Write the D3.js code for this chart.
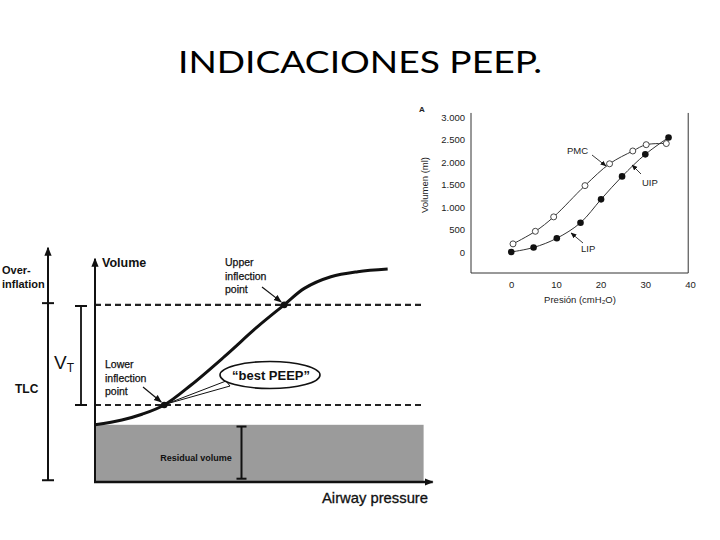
<!DOCTYPE html>
<html>
<head>
<meta charset="utf-8">
<script src="https://cdn.jsdelivr.net/npm/d3@7"></script>
<style>
  html, body { margin: 0; padding: 0; background: #fff; }
  svg { display: block; }
</style>
</head>
<body>
<svg id="chart" width="720" height="540"></svg>
<script>
// ---------- DATA ----------
const titleText = "INDICACIONES PEEP.";

// Left schematic: pressure-volume curve (arbitrary units 0-100)
const leftPressure = [0, 8, 14, 20.6, 28.6, 38.5, 48.4, 56.3, 62.3, 70.2, 78.2, 87.1];
const leftVolume   = [26, 28.2, 30.8, 35, 44.1, 57, 70.6, 80.5, 88, 93.3, 95.6, 96.8];
const residualVolume = 26;      // top of shaded area
const lowerInflection = { p: 20.6, v: 35 };
const upperInflection = { p: 56.3, v: 80.5 };
const tlcLevel = 81.3;          // over-inflation boundary on TLC axis

// Right chart: Volumen (ml) vs Presión (cmH2O)
const openPressure   = [0.4, 5.4, 9.5, 16.5, 22, 27.2, 30.2, 34.7];
const openVolume     = [180, 460, 780, 1475, 1960, 2245, 2385, 2410];
const filledPressure = [0, 5, 10.2, 15.5, 20.1, 24.8, 30, 35.2];
const filledVolume   = [0, 100, 305, 650, 1170, 1680, 2170, 2545];
const rightYTicks  = [0, 500, 1000, 1500, 2000, 2500, 3000];
const rightYLabels = ["0", "500", "1.000", "1.500", "2.000", "2.500", "3.000"];
const rightXTicks  = [0, 10, 20, 30, 40];

// ---------- DRAW ----------
const svg = d3.select("#chart");
const defs = svg.append("defs");
function arrowMarker(id, size) {
  defs.append("marker").attr("id", id)
    .attr("viewBox", "0 0 10 10").attr("refX", 9).attr("refY", 5)
    .attr("markerWidth", size).attr("markerHeight", size)
    .attr("orient", "auto").attr("markerUnits", "userSpaceOnUse")
    .append("path").attr("d", "M0,1 L10,5 L0,9 Z").attr("fill", "#111");
}
arrowMarker("arrowL", 8);
arrowMarker("arrowS", 6);
arrowMarker("axisArrow", 9);

// Title
svg.append("text").attr("x", 360).attr("y", 73)
  .attr("text-anchor", "middle")
  .attr("font-family", "Lato, 'Open Sans', sans-serif")
  .attr("font-size", 30)
  .attr("textLength", 364).attr("lengthAdjust", "spacingAndGlyphs")
  .attr("fill", "#000").text(titleText);

// ===== Left schematic =====
const L = svg.append("g").attr("font-family", "'Liberation Sans', Arial, sans-serif").attr("fill", "#111");
const lx = d3.scaleLinear().domain([0, 100]).range([95, 431]);
const ly = d3.scaleLinear().domain([0, 100]).range([482, 262]);

// shaded residual volume
L.append("rect").attr("x", lx(0)).attr("y", ly(residualVolume))
  .attr("width", lx(97.8) - lx(0)).attr("height", ly(0) - ly(residualVolume))
  .attr("fill", "#9b9b9b");

// dashed lines
[lowerInflection.v, upperInflection.v].forEach(v => {
  L.append("line").attr("x1", lx(0)).attr("x2", lx(97.8))
    .attr("y1", ly(v)).attr("y2", ly(v))
    .attr("stroke", "#222").attr("stroke-width", 2.2).attr("stroke-dasharray", "6,4");
});

// axes
L.append("line").attr("x1", lx(0)).attr("y1", ly(0)).attr("x2", lx(0)).attr("y2", ly(101.5))
  .attr("stroke", "#111").attr("stroke-width", 2).attr("marker-end", "url(#axisArrow)");
L.append("line").attr("x1", lx(0) - 1).attr("y1", ly(0)).attr("x2", lx(100.5)).attr("y2", ly(0))
  .attr("stroke", "#111").attr("stroke-width", 2.5).attr("marker-end", "url(#axisArrow)");

// curve
const leftPts = leftPressure.map((p, i) => [p, leftVolume[i]]);
L.append("path").datum(leftPts)
  .attr("d", d3.line().x(d => lx(d[0])).y(d => ly(d[1])).curve(d3.curveCatmullRom))
  .attr("fill", "none").attr("stroke", "#111").attr("stroke-width", 3);

// inflection dots
[lowerInflection, upperInflection].forEach(pt => {
  L.append("circle").attr("cx", lx(pt.p)).attr("cy", ly(pt.v)).attr("r", 3.3).attr("fill", "#111");
});

// residual volume I-bar
const rvX = lx(43.6);
L.append("line").attr("x1", rvX).attr("x2", rvX).attr("y1", ly(25.2)).attr("y2", ly(1.5)).attr("stroke", "#111").attr("stroke-width", 2);
[25.2, 1.5].forEach(v => L.append("line").attr("x1", rvX - 5).attr("x2", rvX + 5).attr("y1", ly(v)).attr("y2", ly(v)).attr("stroke", "#111").attr("stroke-width", 2));
L.append("text").attr("x", 196).attr("y", 461).attr("text-anchor", "middle")
  .attr("font-size", 9).attr("font-weight", "bold").attr("fill", "#111").text("Residual volume");

// TLC axis
const tX = 48;
L.append("line").attr("x1", tX).attr("x2", tX).attr("y1", ly(0.8)).attr("y2", ly(106.5))
  .attr("stroke", "#111").attr("stroke-width", 2).attr("marker-end", "url(#axisArrow)");
[tlcLevel, 0.8].forEach(v => L.append("line").attr("x1", tX - 6).attr("x2", tX + 6).attr("y1", ly(v)).attr("y2", ly(v)).attr("stroke", "#111").attr("stroke-width", 2));

// VT I-bar
const vtX = 81;
L.append("line").attr("x1", vtX).attr("x2", vtX).attr("y1", ly(upperInflection.v - 0.5)).attr("y2", ly(lowerInflection.v)).attr("stroke", "#111").attr("stroke-width", 1.8);
[upperInflection.v - 0.5, lowerInflection.v].forEach(v => L.append("line").attr("x1", vtX - 6).attr("x2", vtX + 6).attr("y1", ly(v)).attr("y2", ly(v)).attr("stroke", "#111").attr("stroke-width", 2));

// labels
L.append("text").attr("x", 2).attr("y", 274).attr("font-size", 11).attr("font-weight", "bold").attr("fill", "#111").text("Over-");
L.append("text").attr("x", 2).attr("y", 288).attr("font-size", 11).attr("font-weight", "bold").attr("fill", "#111").text("inflation");
L.append("text").attr("x", 15).attr("y", 393).attr("font-size", 12).attr("font-weight", "bold").attr("fill", "#111").text("TLC");
const vt = L.append("text").attr("x", 54).attr("y", 369).attr("font-size", 19).attr("fill", "#111");
vt.append("tspan").text("V");
vt.append("tspan").attr("font-size", 12).attr("dy", 3).text("T");
L.append("text").attr("x", 102).attr("y", 267).attr("font-size", 12.5).attr("font-weight", "bold").attr("fill", "#111").text("Volume");
L.append("text").attr("x", 322).attr("y", 503).attr("font-size", 14.5).attr("textLength", 106).attr("lengthAdjust", "spacingAndGlyphs").attr("fill", "#111").attr("stroke", "#111").attr("stroke-width", 0.3).text("Airway pressure");

const smallLbl = (x, y, lines) => lines.forEach((t, i) =>
  L.append("text").attr("x", x).attr("y", y + i * 13.5).attr("font-size", 10.5)
    .attr("fill", "#111").attr("stroke", "#111").attr("stroke-width", 0.25).text(t));
smallLbl(225, 266, ["Upper", "inflection", "point"]);
smallLbl(105, 368, ["Lower", "inflection", "point"]);

// annotation arrows
L.append("line").attr("x1", 143).attr("y1", 387).attr("x2", lx(lowerInflection.p) - 3).attr("y2", ly(lowerInflection.v) - 3)
  .attr("stroke", "#111").attr("stroke-width", 1.2).attr("marker-end", "url(#arrowL)");
L.append("line").attr("x1", 262).attr("y1", 287).attr("x2", lx(upperInflection.p) - 3).attr("y2", ly(upperInflection.v) - 3)
  .attr("stroke", "#111").attr("stroke-width", 1.2).attr("marker-end", "url(#arrowL)");

// "best PEEP" callout
L.append("path")
  .attr("d", `M${lx(lowerInflection.p) + 2},${ly(lowerInflection.v) - 1} L226,381 L230,386 Z`)
  .attr("fill", "#fff").attr("stroke", "#111").attr("stroke-width", 1);
L.append("ellipse").attr("cx", 270).attr("cy", 375).attr("rx", 50).attr("ry", 13.5)
  .attr("fill", "#fff").attr("stroke", "#111").attr("stroke-width", 1.6);
L.append("text").attr("x", 271).attr("y", 380).attr("text-anchor", "middle")
  .attr("font-size", 13).attr("font-weight", "bold").attr("fill", "#111").text("\u201Cbest PEEP\u201D");

// ===== Right chart =====
const R = svg.append("g").attr("font-family", "'Liberation Sans', Arial, sans-serif").attr("fill", "#222");
const rx = d3.scaleLinear().domain([-9, 40]).range([471, 690]);
const ry = d3.scaleLinear().domain([-467, 3000]).range([273, 117]);

// frame
R.append("path").attr("d", `M${rx(-9)},${ry(3090)} V${ry(-467)} H${rx(39.6)} V${ry(3090)}`)
  .attr("fill", "none").attr("stroke", "#333").attr("stroke-width", 1);

// axes (labels only)
const yAxis = d3.axisLeft(ry).tickValues(rightYTicks).tickFormat((d, i) => rightYLabels[i]).tickSize(0).tickPadding(6);
const yG = R.append("g").attr("transform", `translate(${rx(-9)},0)`).call(yAxis);
yG.select(".domain").remove();
const xAxis = d3.axisBottom(rx).tickValues(rightXTicks).tickSize(0).tickPadding(8);
const xG = R.append("g").attr("transform", `translate(0,${ry(-467)})`).call(xAxis);
xG.select(".domain").remove();
R.selectAll(".tick text").attr("font-size", 9.5).attr("fill", "#222").attr("font-family", "'Liberation Sans', Arial, sans-serif");

R.append("text").attr("x", 580).attr("y", 303).attr("text-anchor", "middle").attr("font-size", 9.5).attr("fill", "#222")
  .text("Presión (cmH\u2082O)");
R.append("text").attr("transform", "translate(428,185) rotate(-90)").attr("text-anchor", "middle").attr("font-size", 9.5).attr("fill", "#222")
  .text("Volumen (ml)");
R.append("text").attr("x", 419).attr("y", 112).attr("font-size", 8).attr("font-weight", "bold").attr("fill", "#222").text("A");

const rLine = d3.line().x(d => rx(d[0])).y(d => ry(d[1])).curve(d3.curveCatmullRom);
const openPts = openPressure.map((p, i) => [p, openVolume[i]]);
const filledPts = filledPressure.map((p, i) => [p, filledVolume[i]]);
[openPts, filledPts].forEach(pts => R.append("path").datum(pts).attr("d", rLine)
  .attr("fill", "none").attr("stroke", "#333").attr("stroke-width", 1));
R.selectAll(".openPt").data(openPts).enter().append("circle")
  .attr("cx", d => rx(d[0])).attr("cy", d => ry(d[1])).attr("r", 3)
  .attr("fill", "#fff").attr("stroke", "#333").attr("stroke-width", 0.9);
R.selectAll(".filledPt").data(filledPts).enter().append("circle")
  .attr("cx", d => rx(d[0])).attr("cy", d => ry(d[1])).attr("r", 3.3)
  .attr("fill", "#111");

// annotations
R.append("text").attr("x", 567).attr("y", 154).attr("font-size", 9.5).attr("fill", "#222").text("PMC");
R.append("text").attr("x", 642).attr("y", 186).attr("font-size", 9.5).attr("fill", "#222").text("UIP");
R.append("text").attr("x", 581).attr("y", 252).attr("font-size", 9.5).attr("fill", "#222").text("LIP");
R.append("line").attr("x1", 592).attr("y1", 155).attr("x2", 606).attr("y2", 166)
  .attr("stroke", "#222").attr("stroke-width", 0.9).attr("marker-end", "url(#arrowS)");
R.append("line").attr("x1", 641).attr("y1", 174).attr("x2", 632).attr("y2", 165)
  .attr("stroke", "#222").attr("stroke-width", 0.9).attr("marker-end", "url(#arrowS)");
R.append("line").attr("x1", 583).attr("y1", 243).attr("x2", 571).attr("y2", 233)
  .attr("stroke", "#222").attr("stroke-width", 0.9).attr("marker-end", "url(#arrowS)");
</script>
</body>
</html>
